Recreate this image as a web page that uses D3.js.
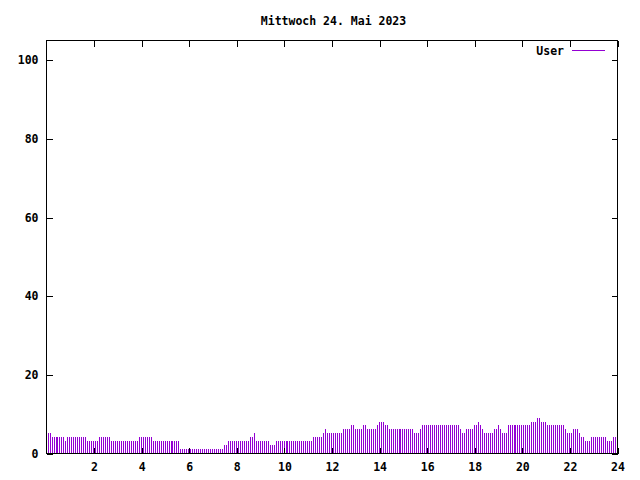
<!DOCTYPE html>
<html>
<head>
<meta charset="utf-8">
<script src="https://cdn.jsdelivr.net/npm/d3@7"></script>
<style>
  html, body { margin: 0; padding: 0; background: #fff; }
  svg text { font-family: "DejaVu Sans Mono", "Liberation Mono", monospace; font-weight: bold; font-size: 11.5px; fill: #000; }
</style>
</head>
<body>
<svg id="chart" width="640" height="480"></svg>
<script>
// ---- data (5-minute samples, 24. Mai 2023) ----
const title = "Mittwoch 24. Mai 2023";
const seriesName = "User";
const userValues = [
  5,5,4,4,4,4,4,4,4,3,4,4,4,4,4,4,4,4,4,4,3,3,3,3,3,3,4,4,4,4,4,4,
  3,3,3,3,3,3,3,3,3,3,3,3,3,3,4,4,4,4,4,4,4,3,3,3,3,3,3,3,3,3,3,3,
  3,3,3,1,1,1,1,1,1,1,1,1,1,1,1,1,1,1,1,1,1,1,1,1,1,2,2,3,3,3,3,3,
  3,3,3,3,3,3,4,4,5,3,3,3,3,3,3,3,2,2,2,3,3,3,3,3,3,3,3,3,3,3,3,3,
  3,3,3,3,3,3,4,4,4,4,4,5,6,5,5,5,5,5,5,5,5,6,6,6,6,7,7,6,6,6,6,7,
  7,6,6,6,6,6,7,8,8,8,7,7,6,6,6,6,6,6,6,6,6,6,6,6,6,5,5,5,6,7,7,7,
  7,7,7,7,7,7,7,7,7,7,7,7,7,7,7,7,6,5,5,6,6,6,6,7,7,8,7,6,5,5,5,5,
  5,6,6,7,6,5,5,5,7,7,7,7,7,7,7,7,7,7,7,7,8,8,8,9,9,8,8,8,7,7,7,7,
  7,7,7,7,7,6,5,5,5,6,6,6,5,4,4,3,3,3,4,4,4,4,4,4,4,4,3,3,3,4,4
];
const sampleMinutes = 5;     // sampling interval
const xTickValues = [2,4,6,8,10,12,14,16,18,20,22,24];
const yTickValues = [0,20,40,60,80,100];
const xDomain = [0, 24];
const yDomain = [0, 105];

// ---- layout ----
const W = 640, H = 480;
const plotL = 46, plotR = 617, plotT = 40, plotB = 453;
const color = "#9400D3";

const svg = d3.select("#chart");
svg.append("rect").attr("width", W).attr("height", H).attr("fill", "#fff");

const x = d3.scaleLinear().domain(xDomain).range([plotL, plotR]);
const y = d3.scaleLinear().domain(yDomain).range([plotB, plotT]);

const data = userValues.map((v, i) => ({ h: (i * sampleMinutes + 4) / 60, v }));

// impulses
svg.append("g")
  .attr("stroke", color)
  .attr("stroke-width", 1)
  .attr("shape-rendering", "crispEdges")
  .selectAll("line")
  .data(data)
  .join("line")
  .attr("x1", d => Math.round(x(d.h)) + 0.5)
  .attr("x2", d => Math.round(x(d.h)) + 0.5)
  .attr("y1", y(0))
  .attr("y2", d => Math.round(y(d.v)));

// axes (ticks inward, mirrored)
function styleAxis(g, showLabels) {
  g.select(".domain").remove();
  g.selectAll(".tick line").attr("stroke", "#000").attr("shape-rendering", "crispEdges");
  g.selectAll(".tick text")
    .attr("font-family", "DejaVu Sans Mono, Liberation Mono, monospace")
    .attr("font-weight", "bold")
    .attr("font-size", "11.5px")
    .attr("fill", "#000");
  if (!showLabels) g.selectAll(".tick text").remove();
}

svg.append("g")
  .attr("transform", `translate(0.5,${plotB + 0.5})`)
  .call(d3.axisBottom(x).tickValues(xTickValues).tickSize(-6).tickPadding(9).tickFormat(d3.format("d")))
  .call(g => styleAxis(g, true));

svg.append("g")
  .attr("transform", `translate(0.5,${plotT + 0.5})`)
  .call(d3.axisTop(x).tickValues(xTickValues).tickSize(-6))
  .call(g => styleAxis(g, false));

svg.append("g")
  .attr("transform", `translate(${plotL + 0.5},0.5)`)
  .call(d3.axisLeft(y).tickValues(yTickValues).tickSize(-6).tickPadding(8).tickFormat(d3.format("d")))
  .call(g => styleAxis(g, true));

svg.append("g")
  .attr("transform", `translate(${plotR + 0.5},0.5)`)
  .call(d3.axisRight(y).tickValues(yTickValues).tickSize(-6))
  .call(g => styleAxis(g, false));

// border
svg.append("rect")
  .attr("x", plotL + 0.5).attr("y", plotT + 0.5)
  .attr("width", plotR - plotL).attr("height", plotB - plotT)
  .attr("fill", "none").attr("stroke", "#000").attr("stroke-width", 1)
  .attr("shape-rendering", "crispEdges");

// title
svg.append("text")
  .attr("x", (plotL + plotR) / 2 + 2).attr("y", 25)
  .attr("text-anchor", "middle")
  .text(title);

// legend
svg.append("text")
  .attr("x", 564).attr("y", 55)
  .attr("text-anchor", "end")
  .text(seriesName);
svg.append("line")
  .attr("x1", 572).attr("x2", 605)
  .attr("y1", 50.5).attr("y2", 50.5)
  .attr("stroke", color).attr("stroke-width", 1)
  .attr("shape-rendering", "crispEdges");
</script>
</body>
</html>
